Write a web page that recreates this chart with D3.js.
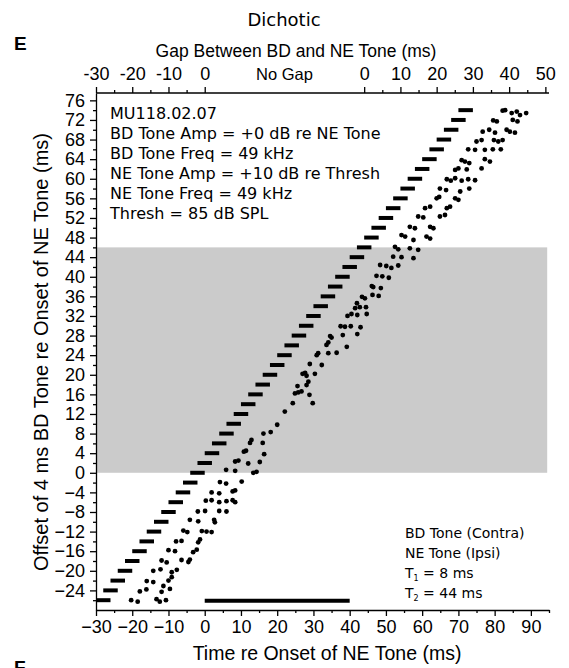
<!DOCTYPE html>
<html>
<head>
<meta charset="utf-8">
<script src="https://cdn.jsdelivr.net/npm/d3@7"></script>
<style>
  html, body { margin: 0; padding: 0; background: #fff; }
  svg { display: block; }
  .ax text { font-family: "Liberation Sans", Arial, sans-serif; font-size: 18px; fill: #000; }
  .ax path, .ax line { stroke: #000; stroke-width: 1.3; }
  .info { font-family: "DejaVu Sans", Verdana, sans-serif; font-size: 16px; fill: #000; }
  .legend { font-family: "DejaVu Sans", Verdana, sans-serif; font-size: 14px; fill: #000; }
  .title { font-family: "Liberation Sans", Arial, sans-serif; fill: #000; }
</style>
</head>
<body>
<svg id="chart" width="569" height="668"></svg>
<script>
// Time axis (ms re NE tone onset) and BD-tone offset axis (ms)
const timeTicks   = [-30, -20, -10, 0, 10, 20, 30, 40, 50, 60, 70, 80, 90];
const timeMinor   = [-25, -15, -5, 5, 15, 25, 35, 45, 55, 65, 75, 85, 95];
const offsetTicks = [-24, -20, -16, -12, -8, -4, 0, 4, 8, 12, 16, 20, 24, 28, 32, 36, 40, 44, 48, 52, 56, 60, 64, 68, 72, 76];
const offsetMinor = [-26, -22, -18, -14, -10, -6, -2, 2, 6, 10, 14, 18, 22, 26, 30, 34, 38, 42, 46, 50, 54, 58, 62, 66, 70, 74];

// Gap between BD and NE tones: negative side (BD ends before NE onset), positive side (after NE offset)
const gapTicksBefore = [-30, -20, -10, 0];
const gapMinorBefore = [-25, -15, -5];
const gapTicksAfter  = [0, 10, 20, 30, 40, 50];
const gapMinorAfter  = [5, 15, 25, 35, 45];

// Stimulus parameters
const bdDuration = 4;               // ms
const neOnset = 0, neDuration = 40; // ms
const T1 = 8, T2 = 44;              // ms
const overlapBand = [0, 46];        // offsets shaded

// BD tone offsets presented (ms re NE onset)
const bdOffsets = [-26, -24, -22, -20, -18, -16, -14, -12, -10, -8, -6, -4, -2, 0, 2, 4, 6, 8, 10, 12, 14, 16, 18, 20, 22, 24,
  26, 28, 30, 32, 34, 36, 38, 40, 42, 44, 46, 48, 50, 52, 54, 56, 58, 60, 62, 64, 66, 68, 70, 72, 74];

// Spike times [time ms, offset row ms]
const spikes = [
  [-20.3,-26.0],[-18.5,-26.3],[-13.3,-25.8],[-12.4,-26.3],[-10.7,-26.0],
  [-17.9,-24.2],[-16.1,-23.8],[-11.9,-24.3],[-9.6,-23.7],[-11.4,-23.1],
  [-16.0,-22.1],[-14.2,-22.3],[-10.0,-22.0],[-9.1,-21.3],
  [-14.2,-20.0],[-12.2,-19.7],[-9.1,-20.3],[-7.7,-19.8],
  [-11.9,-17.9],[-10.5,-18.3],[-6.4,-17.8],[-4.5,-18.2],[-4.1,-17.7],
  [-10.0,-15.8],[-8.2,-16.0],[-3.2,-16.2],[-2.2,-15.7],
  [-7.9,-14.0],[-6.4,-13.9],[-1.8,-14.2],[-1.3,-13.6],
  [-5.9,-11.8],[-4.8,-12.1],[-0.8,-11.9],[0.5,-12.0],[1.9,-12.1],
  [-4.1,-9.6],[-1.8,-9.9],[2.6,-9.6],[2.8,-10.1],
  [-1.9,-7.9],[0.1,-7.8],[4.0,-7.8],[6.0,-7.9],
  [0.3,-5.7],[1.9,-5.6],[4.0,-6.0],[6.0,-5.8],[7.7,-5.6],[8.4,-6.0],
  [1.9,-4.0],[4.0,-4.2],[7.7,-3.8],[8.4,-3.6],
  [4.2,-1.9],[5.9,-2.2],[10.2,-1.8],
  [5.9,0.6],[8.4,0.4],[13.4,0.0],[14.3,0.2],
  [8.4,2.3],[9.3,2.5],[12.0,1.9],[15.2,2.2],
  [10.8,4.3],[11.4,4.5],[16.4,3.8],
  [12.5,6.1],[12.9,6.7],[16.0,6.1],
  [16.2,8.0],[18.2,8.3],
  [20.0,9.8],[22.1,12.5],[24.3,14.2],[29.8,14.2],[24.9,16.2],[25.8,16.4],[26.7,16.6],[25.6,17.7],
  [28.1,17.9],[28.6,18.6],[28.9,15.9],[27.0,20.2],[27.7,20.4],[28.1,19.8],[30.4,20.2],[29.0,22.2],
  [32.3,22.0],[30.9,24.0],[31.3,24.4],[34.1,24.4],[36.4,24.5],[33.6,26.1],[34.1,26.6],[35.0,27.6],
  [34.6,27.9],[39.2,25.7],[38.1,28.1],[37.5,29.9],[38.7,29.8],[40.3,29.9],[42.1,28.3],[43.0,29.7],
  [39.4,32.0],[40.5,32.4],[42.1,32.2],[44.7,32.4],[41.5,33.6],[42.8,33.8],[42.0,34.6],[44.5,33.8],
  [43.4,35.9],[44.2,35.6],[46.1,38.1],[46.5,37.9],[46.3,36.3],[47.4,40.2],[48.4,42.4],
  [48.0,36.1],[48.6,37.7],[49.0,40.1],[50.8,39.8],[50.1,42.2],[51.5,41.8],[53.4,42.3],
  [52.0,44.1],[54.3,44.0],[57.6,43.8],
  [52.5,46.1],[53.4,45.6],[56.6,45.8],[58.9,45.5],
  [54.3,48.5],[55.3,48.2],[57.6,47.5],[61.2,48.2],[62.2,47.8],
  [56.6,50.2],[58.0,49.9],[62.2,50.2],[63.1,49.9],
  [58.9,52.3],[60.3,52.1],[64.9,52.3],[66.3,52.6],
  [60.8,54.0],[62.2,54.3],[66.8,54.0],[67.7,54.3],
  [64.0,56.0],[64.7,56.3],[69.1,56.0],[70.0,55.7],
  [64.9,58.0],[66.6,57.7],[70.5,57.4],[73.0,58.0],
  [66.8,59.9],[67.9,59.6],[69.1,60.1],[70.9,59.6],[72.7,59.9],[74.6,59.7],
  [69.1,61.8],[70.0,62.1],[72.3,61.9],[76.4,62.1],
  [70.9,63.8],[71.8,63.5],[73.0,63.2],[77.3,64.0],[78.7,63.5],
  [72.7,66.0],[74.6,65.9],[77.3,65.9],[79.5,66.0],[81.7,66.0],
  [75.0,67.6],[76.4,67.9],[79.8,67.9],[81.0,67.6],[82.2,67.9],
  [76.7,69.6],[78.5,70.0],[80.1,69.4],[83.3,70.0],[84.2,69.6],[85.6,69.4],
  [79.6,71.9],[80.6,71.7],[85.0,72.0],[86.3,71.7],
  [82.2,73.9],[82.9,74.0],[84.7,73.4],[86.1,73.7],[87.0,73.0],[88.7,73.4]
];

const infoLines = [
  "MU118.02.07",
  "BD Tone Amp = +0 dB re NE Tone",
  "BD Tone Freq = 49 kHz",
  "NE Tone Amp = +10 dB re Thresh",
  "NE Tone Freq = 49 kHz",
  "Thresh = 85 dB SPL"
];

const svg = d3.select("#chart");
const x = d3.scaleLinear().domain([-30, 95]).range([96, 549]);
const y = d3.scaleLinear().domain([-28, 77.5]).range([610, 93]);
const plotLeft = x(-30), plotRight = x(95), plotTop = y(77.5), plotBottom = y(-28);

// shaded overlap band
svg.append("rect")
  .attr("x", x(-30)).attr("width", x(94.5) - x(-30))
  .attr("y", y(overlapBand[1])).attr("height", y(overlapBand[0]) - y(overlapBand[1]))
  .attr("fill", "#cbcbcb");

// BD tone dashes
svg.append("g").selectAll("line").data(bdOffsets).join("line")
  .attr("x1", d => x(d - bdDuration)).attr("x2", d => x(d))
  .attr("y1", d => y(d)).attr("y2", d => y(d))
  .attr("stroke", "#000").attr("stroke-width", 4);

// spikes
svg.append("g").selectAll("circle").data(spikes).join("circle")
  .attr("cx", d => x(d[0])).attr("cy", d => y(d[1]))
  .attr("r", 2.4).attr("fill", "#000");

// NE tone bar
svg.append("line")
  .attr("x1", x(neOnset)).attr("x2", x(neOnset + neDuration))
  .attr("y1", y(-26.1)).attr("y2", y(-26.1))
  .attr("stroke", "#000").attr("stroke-width", 4);

// Left axis
svg.append("g").attr("class", "ax").attr("transform", `translate(${plotLeft},0)`)
  .call(d3.axisLeft(y).tickValues(offsetTicks).tickSize(6).tickSizeOuter(0).tickPadding(5));
svg.append("g").attr("class", "ax").attr("transform", `translate(${plotLeft},0)`)
  .call(d3.axisLeft(y).tickValues(offsetMinor).tickSize(3).tickFormat("").tickSizeOuter(0))
  .select(".domain").remove();

// Bottom axis
svg.append("g").attr("class", "ax").attr("transform", `translate(0,${plotBottom})`)
  .call(d3.axisBottom(x).tickValues(timeTicks).tickSize(6).tickSizeOuter(0).tickPadding(4));
svg.append("g").attr("class", "ax").attr("transform", `translate(0,${plotBottom})`)
  .call(d3.axisBottom(x).tickValues(timeMinor).tickSize(3).tickFormat("").tickSizeOuter(0))
  .select(".domain").remove();

// Top (gap) axis: negative gaps share the time scale; positive gaps start at T2
const gapAfter = d3.scaleLinear().domain([0, 95 - T2]).range([x(T2), x(95)]);
const gT = svg.append("g").attr("class", "ax").attr("transform", `translate(0,${plotTop})`);
gT.append("line").attr("x1", plotLeft).attr("x2", plotRight).attr("y1", 0).attr("y2", 0);
[[x, gapTicksBefore, 6, d => d], [x, gapMinorBefore, 3, () => ""],
 [gapAfter, gapTicksAfter, 6, d => d], [gapAfter, gapMinorAfter, 3, () => ""]].forEach(([s, v, size, fmt]) => {
  const g = gT.append("g").call(d3.axisTop(s).tickValues(v).tickSize(size).tickSizeOuter(0).tickFormat(fmt).tickPadding(7));
  g.select(".domain").remove();
});
gT.append("text").attr("x", (x(0) + x(T2)) / 2).attr("y", -13)
  .attr("text-anchor", "middle").style("font-size", "16.5px").text("No Gap");

// Titles and panel letters
svg.append("text").attr("x", 284).attr("y", 26).attr("text-anchor", "middle")
  .style("font-family", "'DejaVu Sans', Verdana, sans-serif").style("font-size", "18px").text("Dichotic");
svg.append("text").attr("class", "title").attr("x", 14).attr("y", 50)
  .style("font-size", "19px").style("font-weight", "bold").text("E");
svg.append("text").attr("class", "title").attr("x", 14).attr("y", 674)
  .style("font-size", "19px").style("font-weight", "bold").text("F");
svg.append("text").attr("class", "title").attr("x", 296).attr("y", 57).attr("text-anchor", "middle")
  .style("font-size", "17.5px").text("Gap Between BD and NE Tone (ms)");
svg.append("text").attr("class", "title").attr("x", 327).attr("y", 660).attr("text-anchor", "middle")
  .style("font-size", "19.5px").text("Time re Onset of NE Tone (ms)");
svg.append("text").attr("class", "title").attr("transform", "translate(47.5,352) rotate(-90)").attr("text-anchor", "middle")
  .style("font-size", "20px").text("Offset of 4 ms BD Tone re Onset of NE Tone (ms)");

// Stimulus info
svg.append("g").selectAll("text").data(infoLines).join("text")
  .attr("class", "info").attr("x", 110).attr("y", (d, i) => 119 + i * 20).text(d => d);

// Legend
const leg = svg.append("g").attr("class", "legend");
leg.append("text").attr("x", 405).attr("y", 538).text("BD Tone (Contra)");
leg.append("text").attr("x", 405).attr("y", 558).text("NE Tone (Ipsi)");
[["1", T1], ["2", T2]].forEach(([sub, v], i) => {
  const t = leg.append("text").attr("x", 405).attr("y", 578 + i * 20);
  t.append("tspan").text("T");
  t.append("tspan").attr("font-size", "8px").attr("dy", 3).text(sub);
  t.append("tspan").attr("dy", -3).text(` = ${v} ms`);
});
</script>
</body>
</html>
